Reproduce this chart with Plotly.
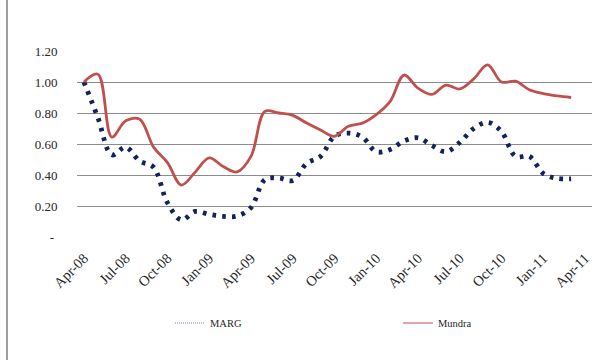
import plotly.graph_objects as go

# Monthly index values, Apr-08 .. Mar-11
months = ["Apr-08", "May-08", "Jun-08", "Jul-08", "Aug-08", "Sep-08", "Oct-08", "Nov-08", "Dec-08",
          "Jan-09", "Feb-09", "Mar-09", "Apr-09", "May-09", "Jun-09", "Jul-09", "Aug-09", "Sep-09",
          "Oct-09", "Nov-09", "Dec-09", "Jan-10", "Feb-10", "Mar-10", "Apr-10", "May-10", "Jun-10",
          "Jul-10", "Aug-10", "Sep-10", "Oct-10", "Nov-10", "Dec-10", "Jan-11", "Feb-11", "Mar-11",
          "Apr-11"]

marg = [1.00, 0.77, 0.53, 0.58, 0.49, 0.45, 0.22, 0.11, 0.165, 0.146, 0.133, 0.135,
        0.19, 0.37, 0.38, 0.365, 0.475, 0.52, 0.65, 0.67, 0.645, 0.55, 0.565, 0.62,
        0.64, 0.59, 0.55, 0.61, 0.70, 0.74, 0.68, 0.52, 0.52, 0.41, 0.378, 0.375]

mundra = [1.00, 1.05, 0.645, 0.75, 0.76, 0.58, 0.48, 0.335, 0.42, 0.51, 0.455, 0.42,
          0.52, 0.81, 0.80, 0.785, 0.735, 0.69, 0.65, 0.715, 0.735, 0.79, 0.875, 1.045,
          0.96, 0.92, 0.98, 0.955, 1.02, 1.11, 1.00, 1.005, 0.95, 0.925, 0.91, 0.90]

tick_idx = list(range(0, len(months), 3))
tick_text = [months[i] for i in tick_idx]

y_ticks = [0, 0.2, 0.4, 0.6, 0.8, 1.0, 1.2]
y_text = ["-\u00a0", "0.20", "0.40", "0.60", "0.80", "1.00", "1.20"]

MARG_COLOR = "#13235a"
MUNDRA_COLOR = "#c0504d"
FONT = "Liberation Serif"
TEXT = "#262626"

PLOT_L, PLOT_R, PLOT_T, PLOT_B = 77, 592, 51, 237
PW, PH = PLOT_R - PLOT_L, PLOT_B - PLOT_T

fig = go.Figure()

fig.add_trace(go.Scatter(
    x=list(range(len(marg))), y=marg, mode="lines", name="MARG",
    line=dict(color=MARG_COLOR, width=4.8, dash="3.6px,6.2px", shape="spline", smoothing=1.0),
    showlegend=False,
))
fig.add_trace(go.Scatter(
    x=list(range(len(mundra))), y=mundra, mode="lines", name="Mundra",
    line=dict(color=MUNDRA_COLOR, width=2.8, shape="spline", smoothing=1.0),
    showlegend=False,
))

# thin legend keys, one legend box per series
fig.add_trace(go.Scatter(x=[None], y=[None], mode="lines", name="MARG", legend="legend",
                         line=dict(color="#7f7f9a", width=1, dash="1px,1px")))
fig.add_trace(go.Scatter(x=[None], y=[None], mode="lines", name="Mundra", legend="legend2",
                         line=dict(color=MUNDRA_COLOR, width=1.2)))

legend_common = dict(
    orientation="h", xanchor="left", yanchor="middle",
    y=(PLOT_B - 323) / PH,
    font=dict(size=10.5, family=FONT, color=TEXT),
    bgcolor="rgba(0,0,0,0)",
)

fig.update_layout(
    width=599, height=360,
    margin=dict(l=PLOT_L, r=599 - PLOT_R, t=PLOT_T, b=360 - PLOT_B),
    paper_bgcolor="white", plot_bgcolor="white",
    font=dict(family=FONT, color=TEXT, size=12),
    xaxis=dict(
        range=[-0.5, len(months) - 0.5],
        tickmode="array", tickvals=tick_idx, ticktext=tick_text,
        tickangle=-45, tickfont=dict(size=14.5, family=FONT, color=TEXT),
        showgrid=False, zeroline=False, showline=False,
        ticks="outside", ticklen=6, tickcolor="rgba(0,0,0,0)",
    ),
    yaxis=dict(
        range=[0, 1.2],
        tickmode="array", tickvals=y_ticks, ticktext=y_text,
        tickfont=dict(size=13, family=FONT, color=TEXT),
        showgrid=True, gridcolor="#8c8c8c", gridwidth=1,
        zeroline=False, showline=False,
        ticks="outside", ticklen=16, tickcolor="rgba(0,0,0,0)",
    ),
    legend=dict(x=(170 - PLOT_L) / PW, **legend_common),
    legend2=dict(x=(398 - PLOT_L) / PW, **legend_common),
)

# outer frame line on the left edge
fig.add_shape(type="line", xref="paper", yref="paper",
              x0=(7 - PLOT_L) / PW, x1=(7 - PLOT_L) / PW,
              y0=-(360 - PLOT_B) / PH, y1=1 + PLOT_T / PH,
              line=dict(color="#7f7f7f", width=1.5))

fig.write_html("out.html")
